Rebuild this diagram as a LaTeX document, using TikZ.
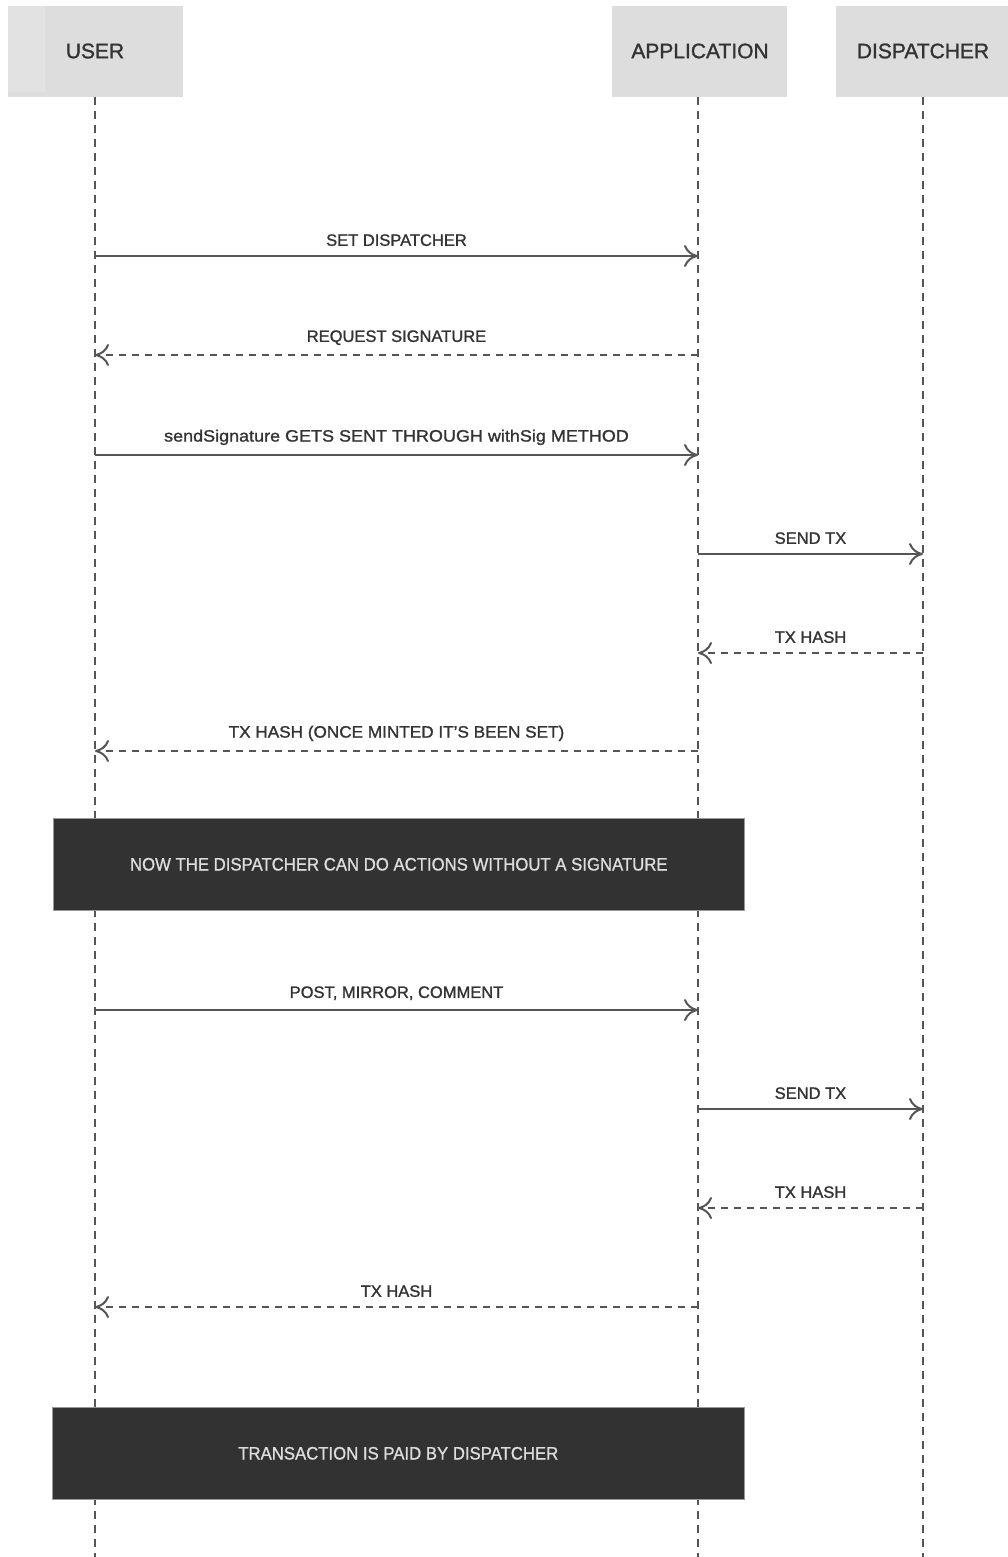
\documentclass[tikz,border=0pt]{standalone}
\usepackage{fontspec}
\setmainfont{Liberation Sans}[FakeBold=1.2]
\newfontfamily\condfont{Liberation Sans}[FakeStretch=0.93, FakeBold=1.0]
\usetikzlibrary{arrows.meta}
\definecolor{hdrfill}{HTML}{DDDDDD}
\definecolor{hdrlight}{HTML}{E2E2E2}
\definecolor{txt}{HTML}{333333}
\definecolor{ln}{HTML}{555555}
\definecolor{notefill}{HTML}{323232}
\definecolor{notetxt}{HTML}{DDDDDD}
\tikzset{
  hdr/.style={fill=hdrfill, draw=none, minimum height=91pt, inner sep=0pt},
  hdrtext/.style={font=\fontsize{21}{24}\selectfont, text=txt},
  lifeline/.style={draw=ln, line width=2pt, dash pattern=on 8pt off 6pt},
  msg/.style={draw=ln, line width=2pt, -{Computer Modern Rightarrow[length=14pt,width=22pt,line width=2pt]}},
  ret/.style={msg, dash pattern=on 7pt off 6pt},
  lbl/.style={font=\fontsize{16.5}{19}\selectfont, text=txt, inner sep=0pt, anchor=base},
  notebox/.style={fill=notefill, draw=ln!60, line width=0.6pt, inner sep=0pt, text=notetxt, font=\condfont\fontsize{18}{21}\selectfont}
}
\begin{document}
\begin{tikzpicture}[x=1pt,y=-1pt]
\useasboundingbox (0,0) rectangle (1008,1557);
\fill[white] (0,0) rectangle (1008,1557);
% headers
\node[hdr, minimum width=175pt, anchor=north west] (huser) at (8,6) {};
\fill[hdrlight] (8,6) rectangle (45,92);
\node[hdrtext] (tuser) at (95,51) {USER};
\node[hdr, minimum width=175pt, anchor=north west] (happ) at (612,6) {};
\node[hdrtext] (tapp) at (700,51) {APPLICATION};
\node[hdr, minimum width=172pt, anchor=north west] (hdisp) at (836,6) {};
\node[hdrtext] (tdisp) at (923,51) {DISPATCHER};
% lifeline coordinates
\coordinate (uT) at (95,97); \coordinate (uB) at (95,1557);
\coordinate (aT) at (698,97); \coordinate (aB) at (698,1557);
\coordinate (dT) at (923,97); \coordinate (dB) at (923,1557);
\draw[lifeline] (uT) -- (uB);
\draw[lifeline] (aT) -- (aB);
\draw[lifeline] (dT) -- (dB);
% message points
\foreach \n/\y in {1/256,2/355,3/455,4/554,5/653,6/751,7/1010,8/1109,9/1208,10/1307}{
  \coordinate (u\n) at (95,\y);
  \coordinate (a\n) at (698,\y);
  \coordinate (d\n) at (923,\y);
}
\draw[msg] (u1) -- (a1) node[lbl, midway, above=9pt] (l1) {SET DISPATCHER};
\draw[ret] (a2) -- (u2) node[lbl, midway, above=9pt] (l2) {REQUEST SIGNATURE};
\draw[msg] (u3) -- (a3) node[lbl, midway, above=9pt, xscale=1.09] (l3) {sendSignature GETS SENT THROUGH withSig METHOD};
\draw[msg] (a4) -- (d4) node[lbl, midway, above=9pt] (l4) {SEND TX};
\draw[ret] (d5) -- (a5) node[lbl, midway, above=9pt] (l5) {TX HASH};
\draw[ret] (a6) -- (u6) node[lbl, midway, above=9pt, xscale=1.04] (l6) {TX HASH (ONCE MINTED IT’S BEEN SET)};
% note 1
\node[notebox, minimum width=691pt, minimum height=92pt, anchor=north west] (n1) at (53,818) {NOW THE DISPATCHER CAN DO ACTIONS WITHOUT A SIGNATURE};
\draw[msg] (u7) -- (a7) node[lbl, midway, above=9pt] (l7) {POST, MIRROR, COMMENT};
\draw[msg] (a8) -- (d8) node[lbl, midway, above=9pt] (l8) {SEND TX};
\draw[ret] (d9) -- (a9) node[lbl, midway, above=9pt] (l9) {TX HASH};
\draw[ret] (a10) -- (u10) node[lbl, midway, above=9pt] (l10) {TX HASH};
% note 2
\node[notebox, minimum width=692pt, minimum height=92pt, anchor=north west] (n2) at (52,1407) {TRANSACTION IS PAID BY DISPATCHER};
\end{tikzpicture}
\end{document}
